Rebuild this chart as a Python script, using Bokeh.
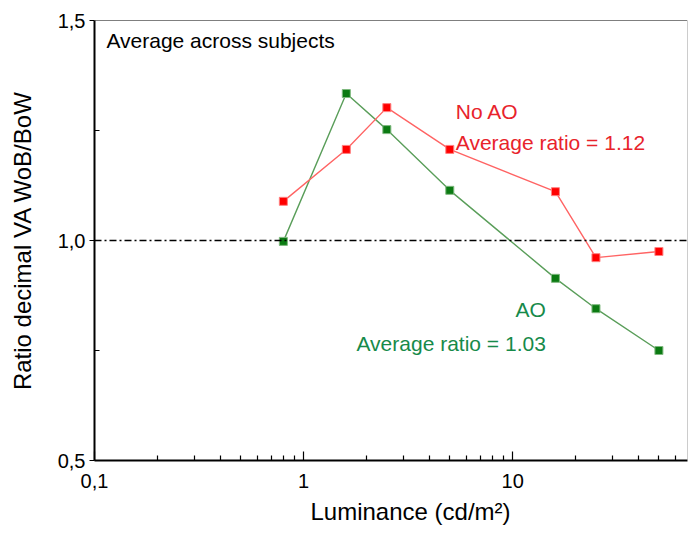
from bokeh.plotting import figure
from bokeh.models import (Span, Label, FixedTicker, CustomJSTickFormatter, Title,
                          ColumnDataSource)
from bokeh.embed import file_html
from bokeh.resources import INLINE

# ---- data ----
luminance = [0.8, 1.6, 2.5, 5, 16, 25, 50]
no_ao = [1.089, 1.207, 1.302, 1.207, 1.111, 0.961, 0.975]
ao = [0.998, 1.334, 1.252, 1.114, 0.914, 0.845, 0.750]
x_major = [0.1, 1, 10]
y_major = [0.5, 1.0, 1.5]
y_minor = [0.75, 1.25]

FONT = "Liberation Sans"
RED_TXT = "#e8232b"
GREEN_TXT = "#168a4a"
X_END = 68.5

x_minor = [m * d for d in (0.1, 1, 10) for m in range(2, 10) if m * d < X_END]

p = figure(width=688, height=532, x_axis_type="log",
           x_range=(0.1, X_END), y_range=(0.5, 1.5),
           output_backend="svg", toolbar_location=None,
           min_border_left=94, min_border_right=1, min_border_top=20,
           min_border_bottom=72)
p.grid.visible = False
p.outline_line_color = None
p.background_fill_color = "white"
p.border_fill_color = "white"

# axes
p.xaxis.ticker = FixedTicker(ticks=x_major, minor_ticks=x_minor)
p.yaxis.ticker = FixedTicker(ticks=y_major, minor_ticks=y_minor)
p.xaxis.formatter = CustomJSTickFormatter(code="return String(tick).replace('.', ',');")
p.yaxis.formatter = CustomJSTickFormatter(code="return tick.toFixed(1).replace('.', ',');")
for ax in (p.xaxis[0], p.yaxis[0]):
    ax.axis_line_width = 2
    ax.axis_line_color = "black"
    ax.major_tick_out = 0
    ax.major_tick_in = 9
    ax.minor_tick_out = 0
    ax.minor_tick_in = 5
    ax.major_tick_line_color = "black"
    ax.minor_tick_line_color = "black"
    ax.major_tick_line_width = 1.2
    ax.minor_tick_line_width = 1.2
    ax.major_label_text_font = FONT
    ax.major_label_text_font_size = "20px"
    ax.major_label_text_color = "black"
p.yaxis.major_tick_in = 0
p.yaxis.major_tick_out = 5
p.xaxis.major_label_standoff = 13
p.yaxis.major_label_standoff = 4
p.yaxis.axis_label = "Ratio decimal VA WoB/BoW"
p.yaxis.axis_label_text_font = FONT
p.yaxis.axis_label_text_font_size = "24px"
p.yaxis.axis_label_text_font_style = "normal"
p.yaxis.axis_label_text_color = "black"
p.yaxis.axis_label_standoff = 19

p.add_layout(Title(text="Luminance (cd/m\u00b2)", align="left", offset=216,
                   text_font=FONT, text_font_size="24px",
                   text_font_style="normal", text_color="black",
                   standoff=10), "below")

# frame top and right borders
p.add_layout(Span(location=1.5, dimension="width", line_color="black", line_width=1))
p.add_layout(Span(location=X_END, dimension="height", line_color="#9a9a9a", line_width=1))

# reference line
p.add_layout(Span(location=1.0, dimension="width", line_color="black",
                  line_width=1.3, line_dash="7 3 2 3"))

src = ColumnDataSource(dict(x=luminance, no_ao=no_ao, ao=ao))
p.line("x", "ao", source=src, line_color="#5a9e5a", line_width=1.4)
p.scatter("x", "ao", source=src, marker="square", size=8,
          fill_color="#0b7a12", line_color="#7fb97f", line_width=1)
p.line("x", "no_ao", source=src, line_color="#ff6464", line_width=1.4)
p.scatter("x", "no_ao", source=src, marker="square", size=8,
          fill_color="#ff0000", line_color="#ff8080", line_width=1)

def lab(x, y, text, color):
    p.add_layout(Label(x=x, y=y, text=text, text_color=color, text_font=FONT,
                       text_font_size="21px", text_baseline="alphabetic",
                       text_align="left"))

lab(0.114, 1.455, "Average across subjects", "black")
lab(5.34, 1.293, "No AO", RED_TXT)
lab(5.34, 1.223, "Average ratio = 1.12", RED_TXT)
lab(10.3, 0.843, "AO", GREEN_TXT)
lab(1.79, 0.766, "Average ratio = 1.03", GREEN_TXT)

open("out.html", "w").write(file_html(p, INLINE))
